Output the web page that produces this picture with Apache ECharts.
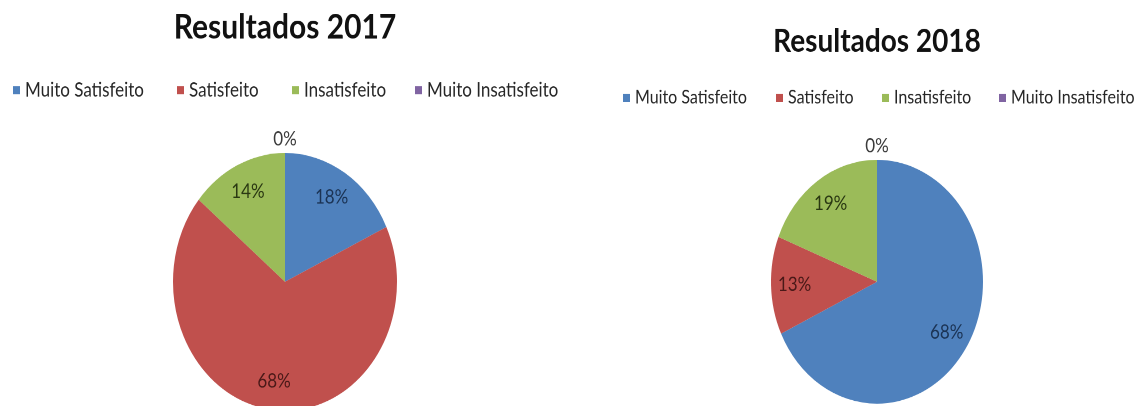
<!DOCTYPE html>
<html><head><meta charset="utf-8">
<script src="https://cdn.jsdelivr.net/npm/echarts@6/dist/echarts.min.js"></script>
<style>
html,body{margin:0;padding:0;background:#fff;overflow:hidden;width:1136px;height:406px;}
#outer{width:1136px;height:406px;overflow:hidden;position:relative;}
#wrap{position:absolute;left:0;top:0;width:1136px;height:354px;transform:scaleY(1.15);transform-origin:0 0;}
#chart{width:1136px;height:354px;}
</style></head><body>
<div id="outer"><div id="wrap"><div id="chart"></div></div></div>
<script>
// ---- data ----
const categories = ['Muito Satisfeito', 'Satisfeito', 'Insatisfeito', 'Muito Insatisfeito'];
const titles = ['Resultados 2017', 'Resultados 2018'];
const values2017 = [18, 68, 14, 0];
const values2018 = [68, 13, 19, 0];

// ---- styles ----
const sliceColors = ['#4F81BD', '#C0504D', '#9BBB59', '#8064A2'];
const labelColors = ['#1b3354', '#4a1918', '#2a3812', '#3b3b3b'];
const FONT = 'Lato, "Open Sans", sans-serif';

const layouts = [
  {cx: 285, cy: 245, r: 112, titleTop: 9, titleSize: 30, legendTop: 70, legendSize: 17, labelSize: 17, legendLefts: [13, 177, 292, 415]},
  {cx: 877, cy: 245, r: 106, titleTop: 22, titleSize: 28, legendTop: 77, legendSize: 16, labelSize: 17, legendLefts: [623, 776, 882, 999]}
];
const allValues = [values2017, values2018];

const chart = echarts.init(document.getElementById('chart'), null, {devicePixelRatio: 2});

const title = [], legend = [], series = [];
allValues.forEach(function (vals, k) {
  const L = layouts[k];
  title.push({
    text: titles[k], left: L.cx, top: L.titleTop, textAlign: 'center', padding: 0,
    textStyle: {fontFamily: FONT, fontWeight: 'bold', fontSize: L.titleSize, color: '#111'}
  });
  categories.forEach(function (c, i) {
    legend.push({
      data: [c], left: L.legendLefts[i], top: L.legendTop, padding: 0,
      icon: 'rect', itemWidth: 7, itemHeight: 7,
      textStyle: {fontFamily: FONT, fontSize: L.legendSize, color: '#262626'}
    });
  });
  // visible pie (zero-value label shown outside at top)
  series.push({
    type: 'pie', center: [L.cx, L.cy], radius: L.r, silent: true,
    startAngle: 90, clockwise: true, avoidLabelOverlap: false,
    data: vals.map(function (v, i) {
      return {name: categories[i], value: v, itemStyle: {color: sliceColors[i]},
              label: {show: v === 0, color: labelColors[i]}};
    }),
    label: {position: 'outside', formatter: '{d}%', fontFamily: FONT, fontSize: L.labelSize, distanceToLabelLine: 0},
    labelLine: {show: false, length: 12, length2: 0},
    labelLayout: function () { return {align: 'center'}; },
    emphasis: {disabled: true}
  });
  // transparent label carrier so inner labels sit at ~3/4 of the radius
  series.push({
    type: 'pie', center: [L.cx, L.cy], radius: L.r * 1.5, silent: true,
    startAngle: 90, clockwise: true,
    itemStyle: {color: 'rgba(0,0,0,0)'},
    data: vals.map(function (v, i) {
      return {name: categories[i], value: v,
              label: {show: v > 0, color: labelColors[i]}};
    }),
    label: {position: 'inside', formatter: '{d}%', fontFamily: FONT, fontSize: L.labelSize},
    labelLine: {show: false},
    emphasis: {disabled: true}
  });
});

chart.setOption({animation: false, backgroundColor: '#fff', title: title, legend: legend, series: series});
</script>
</body></html>
